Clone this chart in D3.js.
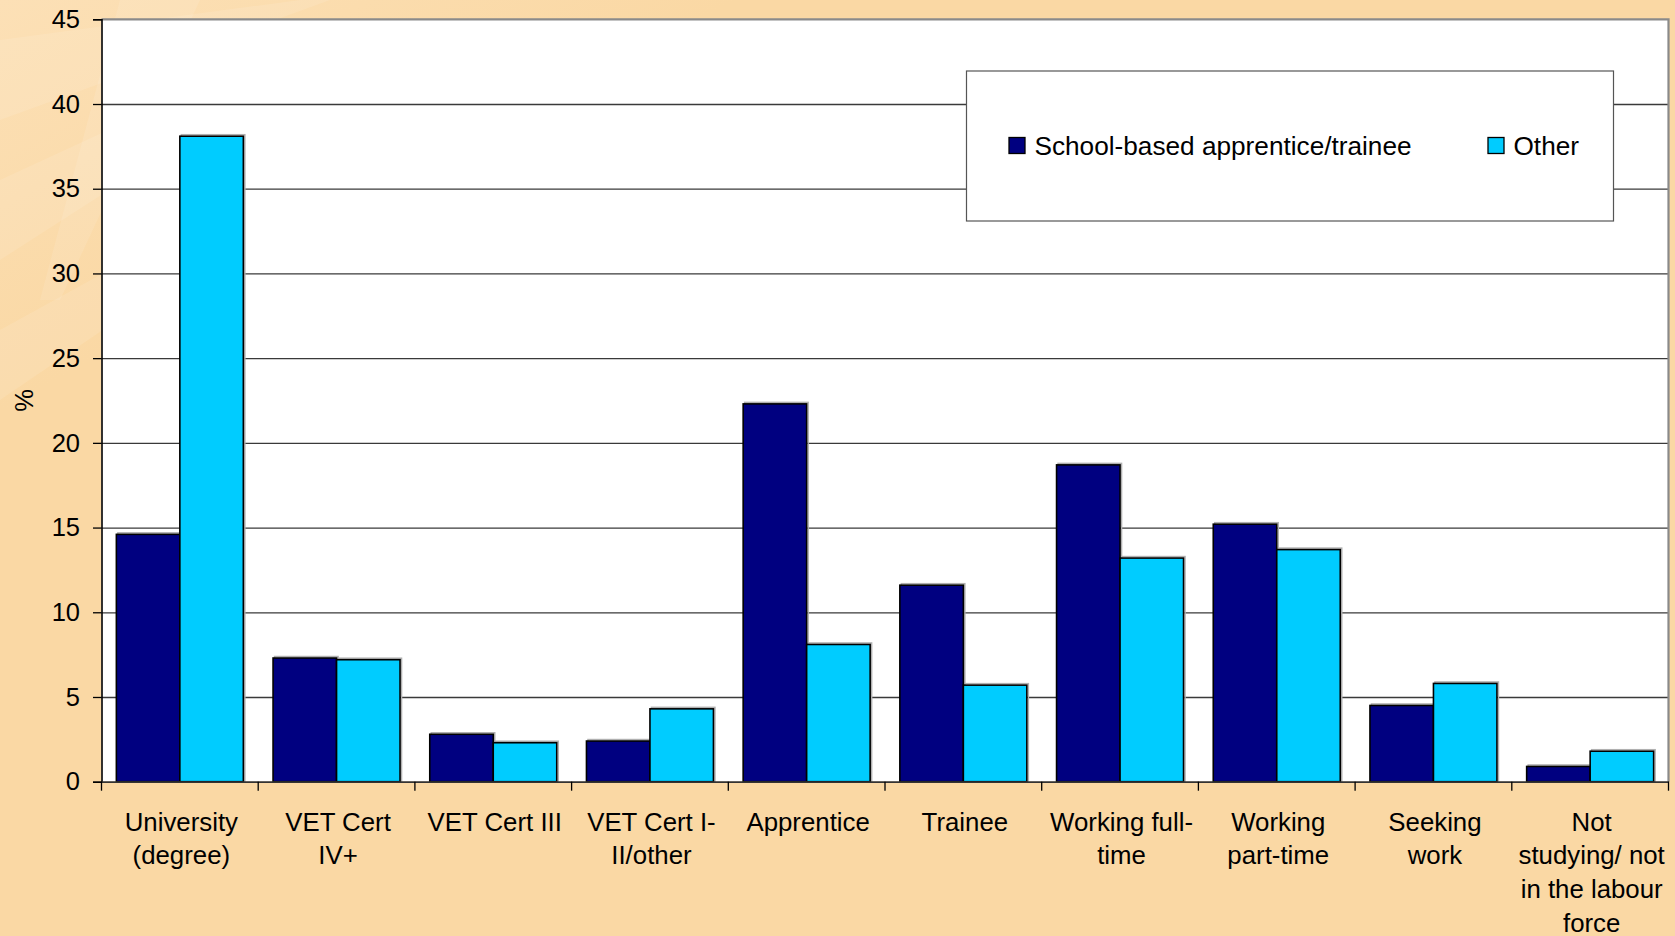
<!DOCTYPE html>
<html>
<head>
<meta charset="utf-8">
<script src="https://cdn.jsdelivr.net/npm/d3@7"></script>
<style>
  html, body { margin: 0; padding: 0; background: #FAD9A6; }
  svg { display: block; }
  text { font-family: "Liberation Sans", Arial, Helvetica, sans-serif; fill: #000; }
</style>
</head>
<body>
<svg id="chart" width="1675" height="936"></svg>
<script>
// ---- data ----
const categories = [
  "University (degree)", "VET Cert IV+", "VET Cert III", "VET Cert I-II/other",
  "Apprentice", "Trainee", "Working full-time", "Working part-time",
  "Seeking work", "Not studying/ not in the labour force"
];
const categoryLabelLines = [
  ["University", "(degree)"], ["VET Cert", "IV+"], ["VET Cert III"], ["VET Cert I-", "II/other"],
  ["Apprentice"], ["Trainee"], ["Working full-", "time"], ["Working", "part-time"],
  ["Seeking", "work"], ["Not", "studying/ not", "in the labour", "force"]
];
const seriesNames = ["School-based apprentice/trainee", "Other"];
const schoolBased = [14.6, 7.3, 2.8, 2.4, 22.3, 11.6, 18.7, 15.2, 4.5, 0.9];
const other       = [38.1, 7.2, 2.3, 4.3, 8.1, 5.7, 13.2, 13.7, 5.8, 1.8];
const yTicks = [0, 5, 10, 15, 20, 25, 30, 35, 40, 45];
const yLabel = "%";
const seriesColors = ["#000080", "#00CCFF"];

// ---- layout ----
const W = 1675, H = 936;
const plot = { left: 101.5, right: 1668.5, top: 19.3, bottom: 781.7 };

const svg = d3.select("#chart");

// background with subtle streaks
const defs = svg.append("defs");
const bg = defs.append("linearGradient").attr("id", "bgGrad")
  .attr("x1", "0").attr("y1", "0").attr("x2", "1").attr("y2", "1");
bg.append("stop").attr("offset", "0").attr("stop-color", "#FCE0B6");
bg.append("stop").attr("offset", "0.22").attr("stop-color", "#FAD8A4");
bg.append("stop").attr("offset", "1").attr("stop-color", "#FAD8A4");
svg.append("rect").attr("width", W).attr("height", H).attr("fill", "url(#bgGrad)");
const streaks = [
  [[0, 40], [300, 0], [330, 0], [0, 120]],
  [[0, 180], [260, 60], [280, 80], [0, 260]],
  [[0, 330], [200, 220], [220, 250], [0, 400]],
  [[120, 0], [200, 0], [60, 300], [40, 300]]
];
svg.append("g").selectAll("path").data(streaks).join("path")
  .attr("d", d => d3.line()(d) + "Z")
  .attr("fill", "#ffffff").attr("opacity", 0.1);

// scales
const x = d3.scaleBand().domain(categories).range([plot.left, plot.right]).paddingInner(0).paddingOuter(0);
const xs = d3.scaleBand().domain(seriesNames).range([0, x.bandwidth()]).paddingInner(0).paddingOuter(0.234);
const y = d3.scaleLinear().domain([0, 45]).range([plot.bottom, plot.top]);

// plot area
svg.append("rect")
  .attr("x", plot.left).attr("y", plot.top)
  .attr("width", plot.right - plot.left).attr("height", plot.bottom - plot.top)
  .attr("fill", "#ffffff");

// gridlines
const grid = svg.append("g").attr("transform", `translate(${plot.left},0)`)
  .call(d3.axisLeft(y).tickValues(yTicks.filter(t => t > 0 && t < 45))
    .tickSize(-(plot.right - plot.left)).tickFormat(""));
grid.select(".domain").remove();
grid.selectAll("line").attr("stroke", "#3a3a3a").attr("stroke-width", 1.3);

// plot border top/right (grey)
svg.append("path")
  .attr("d", `M${plot.left},${plot.top}H${plot.right}V${plot.bottom}`)
  .attr("fill", "none").attr("stroke", "#8a8a8a").attr("stroke-width", 2.2);

// bars
const data = categories.map((c, i) => ({ cat: c, vals: [schoolBased[i], other[i]] }));
const groups = svg.append("g").selectAll("g").data(data).join("g")
  .attr("transform", d => `translate(${x(d.cat)},0)`);
groups.selectAll("rect.shadow").data(d => d.vals.map((v, j) => ({ v, s: seriesNames[j], j })))
  .join("rect").attr("class", "shadow")
  .attr("x", d => xs(d.s) + 1.5).attr("y", d => y(d.v) - 1.5)
  .attr("width", xs.bandwidth()).attr("height", d => y(0) - y(d.v) + 1.5)
  .attr("fill", "none").attr("stroke", "#b0b0b0").attr("stroke-width", 1.5);
groups.selectAll("rect.bar").data(d => d.vals.map((v, j) => ({ v, s: seriesNames[j], j })))
  .join("rect").attr("class", "bar")
  .attr("x", d => xs(d.s)).attr("y", d => y(d.v))
  .attr("width", xs.bandwidth()).attr("height", d => y(0) - y(d.v))
  .attr("fill", d => seriesColors[d.j]).attr("stroke", "#000").attr("stroke-width", 1.6);

// y axis
const yAxis = svg.append("g").attr("transform", `translate(${plot.left},0)`)
  .call(d3.axisLeft(y).tickValues(yTicks).tickSize(8.5).tickPadding(13));
yAxis.select(".domain").attr("stroke", "#000").attr("stroke-width", 1.6);
yAxis.selectAll(".tick line").attr("stroke", "#000").attr("stroke-width", 1.3);
yAxis.selectAll(".tick text").attr("font-size", "25.5px")
  .attr("font-family", "'Liberation Sans', Arial, sans-serif").attr("fill", "#000");

// x axis
const xAxis = svg.append("g").attr("transform", `translate(0,${plot.bottom})`)
  .call(d3.axisBottom(x).tickSize(0).tickFormat(""));
xAxis.select(".domain").attr("stroke", "#333").attr("stroke-width", 1.8);
const boundaries = categories.map(c => x(c)).concat([plot.right]);
svg.append("g").selectAll("line").data(boundaries).join("line")
  .attr("x1", d => d).attr("x2", d => d)
  .attr("y1", plot.bottom).attr("y2", plot.bottom + 9)
  .attr("stroke", "#000").attr("stroke-width", 1.3);

// category labels
const labels = svg.append("g").selectAll("text").data(categories).join("text")
  .attr("x", d => x(d) + x.bandwidth() / 2 + 1.5)
  .attr("y", 830.7)
  .attr("text-anchor", "middle")
  .attr("font-size", "25.8px");
labels.each(function(d, i) {
  d3.select(this).selectAll("tspan").data(categoryLabelLines[i]).join("tspan")
    .attr("x", x(d) + x.bandwidth() / 2 + 1.5)
    .attr("dy", (t, k) => k === 0 ? 0 : 33.6)
    .text(t => t);
});

// y label
svg.append("text")
  .attr("transform", `translate(33,${(plot.top + plot.bottom) / 2}) rotate(-90)`)
  .attr("text-anchor", "middle")
  .attr("font-size", "25.5px")
  .text(yLabel);

// legend
const lg = svg.append("g");
lg.append("rect").attr("x", 966.5).attr("y", 71).attr("width", 647).attr("height", 150)
  .attr("fill", "#fff").attr("stroke", "#555").attr("stroke-width", 1.2);
const legendX = [1009, 1488];
const items = lg.selectAll("g").data(seriesNames).join("g")
  .attr("transform", (d, i) => `translate(${legendX[i]},0)`);
items.append("rect").attr("x", 0).attr("y", 137.5).attr("width", 16).attr("height", 16)
  .attr("fill", (d, i) => seriesColors[i]).attr("stroke", "#000").attr("stroke-width", 1.3);
items.append("text").attr("x", 25.5).attr("y", 154.5).attr("font-size", "26.2px").text(d => d);
</script>
</body>
</html>
